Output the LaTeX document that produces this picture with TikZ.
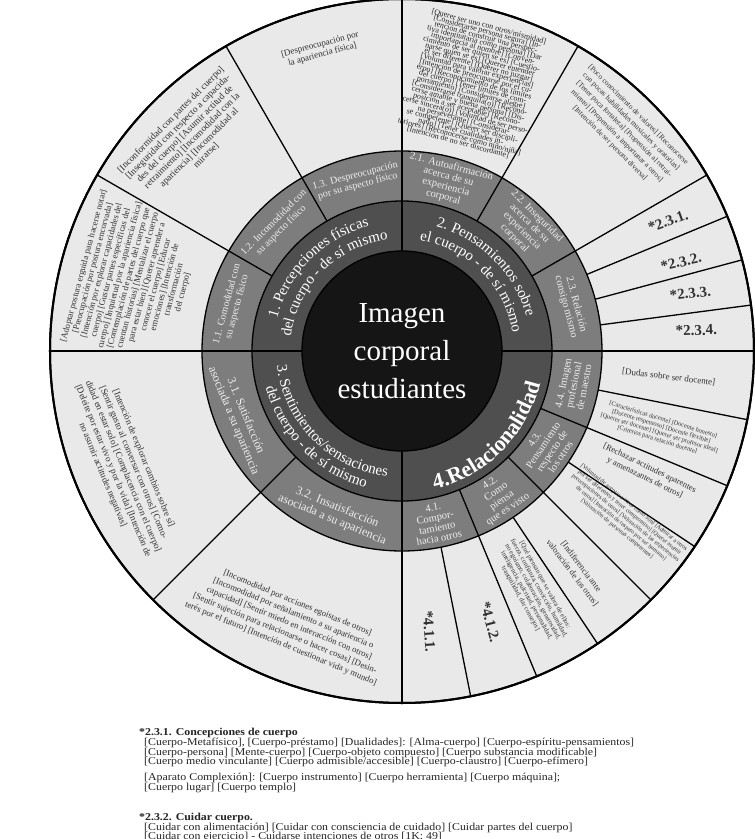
\documentclass[tikz,border=0pt]{standalone}
\usepackage{fontspec}
\setmainfont{Liberation Serif}
\newfontfamily\notefont[FakeStretch=1.12]{Liberation Serif}
\usetikzlibrary{decorations.text}

\definecolor{outerfill}{HTML}{E9E9E9}
\definecolor{subfill}{HTML}{7D7D7D}
\definecolor{mainfill}{HTML}{4F4F4F}
\definecolor{corefill}{HTML}{151515}
\definecolor{sublabelcol}{HTML}{EEEEEE}
\definecolor{inkgrey}{HTML}{303030}

\newcommand{\catfont}{\color{white}\fontsize{15}{15}\selectfont}
\newcommand{\relfont}{\color{white}\fontsize{22}{22}\selectfont\bfseries}

\tikzset{
  divider/.style={line width=1.3pt},
  sublabel/.style={text=sublabelcol, align=center, inner sep=0pt, font=\fontsize{10.5}{10.5}\selectfont},
  outlabel/.style={text=inkgrey, align=center, inner sep=0pt, execute at begin node={\lineskiplimit=-\maxdimen}},
  starlabel/.style={text=inkgrey, inner sep=0pt, font=\fontsize{15}{15}\selectfont\bfseries}
}

\begin{document}
\begin{tikzpicture}[x=1pt, y=1pt]

	\def\rcore{100}
	\def\rmain{150}
	\def\rsub{200}
	\def\rout{352}

	\useasboundingbox (-402,-488) rectangle (353,351);
	\fill[white] (-402,-488) rectangle (353,351);

	% rings
	\filldraw[fill=outerfill, line width=2pt] (0,0) circle[radius=\rout];
	\filldraw[fill=subfill, divider] (0,0) circle[radius=\rsub];
	\filldraw[fill=mainfill, divider] (0,0) circle[radius=\rmain];
	\filldraw[fill=corefill, divider] (0,0) circle[radius=\rcore];

	% the four categories
	\draw[divider] (0:\rcore) -- (0:\rout);
	\draw[divider] (90:\rcore) -- (90:\rout);
	\draw[divider] (180:\rcore) -- (180:\rout);
	\draw[divider] (270:\rcore) -- (270:\rout);

	% subcategories
	\draw[divider] (120:\rmain) -- (120:\rout);
	\draw[divider] (150:\rmain) -- (150:\rout);
	\draw[divider] (60:\rmain) -- (60:\rout);
	\draw[divider] (30:\rmain) -- (30:\rout);
	\draw[divider] (225:\rmain) -- (225:\rout);
	\draw[divider] (292.5:\rmain) -- (292.5:\rout);
	\draw[divider] (315:\rmain) -- (315:\rout);
	\draw[divider] (337.5:\rmain) -- (337.5:\rout);

	% outer slices
	\draw[divider] (22.5:\rsub) -- (22.5:\rout);
	\draw[divider] (15:\rsub) -- (15:\rout);
	\draw[divider] (7.5:\rsub) -- (7.5:\rout);
	\draw[divider] (348.75:\rsub) -- (348.75:\rout);
	\draw[divider] (326.25:\rsub) -- (326.25:\rout);
	\draw[divider] (303.75:\rsub) -- (303.75:\rout);
	\draw[divider] (281.25:\rsub) -- (281.25:\rout);

	\draw[line width=2pt] (0,0) circle[radius=\rout];

	\node[text=white, align=center, font=\fontsize{29}{38}\selectfont] (core) at (0,0) {Imagen\\corporal\\estudiantes};

	% category names along the ring
	\path[decorate, decoration={text along path, text align=center,
		text={|\catfont|1. Percepciones físicas}}] (178:129) arc[start angle=178, end angle=92, radius=129];
	\path[decorate, decoration={text along path, text align=center,
		text={|\catfont|del cuerpo - de sí mismo}}] (178:112) arc[start angle=178, end angle=92, radius=112];
	\path[decorate, decoration={text along path, text align=center,
		text={|\catfont|2. Pensamientos sobre}}] (88:129) arc[start angle=88, end angle=2, radius=129];
	\path[decorate, decoration={text along path, text align=center,
		text={|\catfont|el cuerpo - de sí mismo}}] (88:112) arc[start angle=88, end angle=2, radius=112];
	\path[decorate, decoration={text along path, text align=center,
		text={|\catfont|3. Sentimientos/sensaciones}}] (182:126) arc[start angle=182, end angle=268, radius=126];
	\path[decorate, decoration={text along path, text align=center,
		text={|\catfont|del cuerpo - de sí mismo}}] (182:141) arc[start angle=182, end angle=268, radius=141];
	\path[decorate, decoration={text along path, text align=center,
		text={|\relfont|4.Relacionalidad}}] (272:142) arc[start angle=272, end angle=358, radius=142];

	% subcategories
	\node[sublabel, font=\fontsize{10}{10.5}\selectfont, rotate=15] (s13) at (105:176) {1.3. Despreocupación\\por su aspecto físico};
	\node[sublabel, font=\fontsize{10}{10.5}\selectfont, rotate=45] (s12) at (135:176) {1.2. Incomodidad con\\su aspecto físico};
	\node[sublabel, font=\fontsize{10}{10.5}\selectfont, rotate=75] (s11) at (165:176) {1.1. Comodidad con\\su aspecto físico};
	\node[sublabel, rotate=-15] (s21) at (75:175) {2.1. Autoafirmación\\acerca de su\\experiencia\\corporal};
	\node[sublabel, rotate=-45] (s22) at (45:175) {2.2. Inseguridad\\acerca de su\\experiencia\\corporal};
	\node[sublabel, rotate=-75] (s23) at (15:175) {2.3. Relación\\consigo mismo};
	\node[sublabel, font=\fontsize{12}{13}\selectfont, rotate=-67.5] (s31) at (202.5:176) {3.1. Satisfacción\\asociada a su apariencia};
	\node[sublabel, font=\fontsize{12}{13}\selectfont, rotate=-22.5] (s32) at (247.5:176) {3.2. Insatisfacción\\asociada a su apariencia};
	\node[sublabel, rotate=11.25] (s41) at (281.25:175) {4.1.\\Compor-\\tamiento\\hacia otros};
	\node[sublabel, rotate=33.75] (s42) at (303.75:175) {4.2.\\Como\\piensa\\que es visto};
	\node[sublabel, rotate=56.25] (s43) at (326.25:175) {4.3.\\Pensamiento\\respecto de\\los otros};
	\node[sublabel, rotate=78.75] (s44) at (348.75:175) {4.4. Imagen\\profesional\\de maestro};

	% outer ring
	\node[outlabel, font=\fontsize{9}{10}\selectfont, rotate=15] (o13) at (105:312) {[Despreocupación por\\la apariencia física]};
	\node[outlabel, font=\fontsize{9.5}{10}\selectfont, rotate=45] (o12) at (135:302) {[Inconformidad con partes del cuerpo]\\{}[Inseguridad con respecto a capacida-\\des del cuerpo] [Asumir actitud de\\retraimiento] [Incomodidad con la\\apariencia] [Incomodidad al\\mirarse]};
	\node[outlabel, font=\fontsize{8.8}{9.3}\selectfont, rotate=75] (o11) at (165:278) {[Adoptar postura erguida para hacerse notar]\\{}[Preocupación por postura encorvada]\\{}[Intención por explorar capacidades del\\cuerpo] [Gustar partes específicas del\\cuerpo] [Inquietud por la apariencia física]\\{}[Contemplación de partes del cuerpo que\\cuentan historias] [Mentalizar el cuerpo\\para estar bien] [Querer aprender a\\conocer el cuerpo] [Educar\\emociones] [Intención de\\transformación\\del cuerpo]};
	\node[outlabel, text=black!85, font=\fontsize{8}{5.7}\selectfont, rotate=-15] (o21) at (75:276) {[Querer ser uno con otros/mismidad]\\{}[Considerarse persona segura] [In-\\tención de construir una perspec-\\tiva identitataria como persona] [Dar\\importancia al nombre] [Conven-\\cimiento de ser quien se es] [Cuestio-\\narse quien se es] [Querer entender\\el ser diferente] [Querer no juzgar]\\{}[Voluntad para valorar experiencias]\\{}[Intención de preocuparse por el cu-\\erpo] [Reconocimiento de los límites\\del cuerpo] [Tener límites de com-\\portamiento] [Considerarse alegre]\\{}[Considerarse tranquila(o)] [Recono-\\cerse amable y buena persona] [Dis-\\posición a ser aceptable] [Recono-\\cerse sincera(o)] [Voluntad de ser perso-\\na perseverante] [Considerar-\\se competente] [Querer ser discipli-\\nado] [Tener cualidades in-\\teriores] [Reconocerse como niño/niña]\\{}[Intención de no ser discordante]};
	\node[outlabel, font=\fontsize{7.5}{10}\selectfont, rotate=-45] (o22) at (45:314) {[Poco conocimiento de valores] [Reconocerse\\con pocas habilidades musicales y oratorias]\\{}[Tener poca fortaleza] [Propensión al retrai-\\miento] [Propensión a importunar a otros]\\{}[Intención de ser persona diversa]};
	\node[starlabel, rotate=20] (st231) at (26:296) {*2.3.1.};
	\node[starlabel, rotate=13] (st232) at (17.7:293) {*2.3.2.};
	\node[starlabel, rotate=6.5] (st233) at (11.3:294) {*2.3.3.};
	\node[starlabel, rotate=2] (st234) at (4:295) {*2.3.4.};
	\node[outlabel, font=\fontsize{9}{10}\selectfont, rotate=-7] (o44a) at (354.4:268) {[Dudas sobre ser docente]};
	\node[outlabel, font=\fontsize{6.4}{7}\selectfont, rotate=-17] (o44b) at (343:270) {[Características docente] [Docente honesto]\\{}[Docente respetuoso] [Docente flexible]\\{}[Querer ser docente] [Querer ser profesor ideal]\\{}[Criterios para relación docente]};
	\node[outlabel, font=\fontsize{8.6}{11}\selectfont, rotate=-26] (o43a) at (333.5:274) {[Rechazar actitudes aparentes\\y amenazantes de otros]};
	\node[outlabel, font=\fontsize{6}{6.8}\selectfont, rotate=-39] (o43b) at (323.2:279) {[Voluntad de aceptar a otros como son] [Admirar a otros\\por ser diferentes y tener compromiso] [Querer asumir\\preocupaciones de otros] [Valoración de las experiencias\\de otros] [Intención de respeto por ser humano]\\{}[Valoración de personas competentes]};
	\node[outlabel, font=\fontsize{8.6}{11}\selectfont, rotate=-53] (o42a) at (308.6:280) {[Indiferencia ante\\valoración de los otros]};
	\node[outlabel, font=\fontsize{6.8}{7}\selectfont, rotate=-61] (o42b) at (298.5:274) {[Qué piensan que se valora de ellos:\\fuerza, confianza, convicción, humildad,\\no egoísmo, colaboración, generosidad,\\inteligencia, pulcritud, personalidad,\\tranquilidad, dar consejos]};
	\node[starlabel, rotate=-75] (st412) at (288:285) {*4.1.2.};
	\node[starlabel, rotate=-86] (st411) at (275.5:282) {*4.1.1.};
	\node[outlabel, font=\fontsize{9.2}{11}\selectfont, rotate=-67.5] (o31) at (202.5:302) {[Intención de explorar cambios sobre sí]\\{}[Sentir gusto al conversar con otros] [Como-\\didad en estar solo] [Complacencia con el cuerpo]\\{}[Deleite por estar vivo y por la vida] [Intención de\\no asumir actitudes negativas]};
	\node[outlabel, font=\fontsize{8.8}{11}\selectfont, rotate=-22.5] (o32) at (247.5:295) {[Incomodidad por acciones egoistas de otros]\\{}[Incomodidad por señalamiento a su apariencia o\\capacidad] [Sentir miedo en interacción con otros]\\{}[Sentir sujeción para relacionarse o hacer cosas] [Desin-\\terés por el futuro] [Intención de cuestionar vida y mundo]};

	% notes below
	\node[outlabel, anchor=north west, align=left, text=black!85, font=\notefont\fontsize{10.6}{9.8}\selectfont] (notes) at (-263,-377) {%
		\textbf{*2.3.1. Concepciones de cuerpo}\\
		\hspace*{5pt}[Cuerpo-Metafísico], [Cuerpo-préstamo] [Dualidades]: [Alma-cuerpo] [Cuerpo-espíritu-pensamientos]\\
		\hspace*{5pt}[Cuerpo-persona] [Mente-cuerpo] [Cuerpo-objeto compuesto] [Cuerpo substancia modificable]\\
		\hspace*{5pt}[Cuerpo medio vinculante] [Cuerpo admisible/accesible] [Cuerpo-claustro] [Cuerpo-efímero]\\[6pt]
		\hspace*{5pt}[Aparato Complexión]: [Cuerpo instrumento] [Cuerpo herramienta] [Cuerpo máquina];\\
		\hspace*{5pt}[Cuerpo lugar] [Cuerpo templo]\\[20pt]
		\textbf{*2.3.2. Cuidar cuerpo.}\\
		\hspace*{5pt}[Cuidar con alimentación] [Cuidar con consciencia de cuidado] [Cuidar partes del cuerpo]\\
		\hspace*{5pt}[Cuidar con ejercicio] - Cuidarse intenciones de otros [1K; 49]};

\end{tikzpicture}
\end{document}
